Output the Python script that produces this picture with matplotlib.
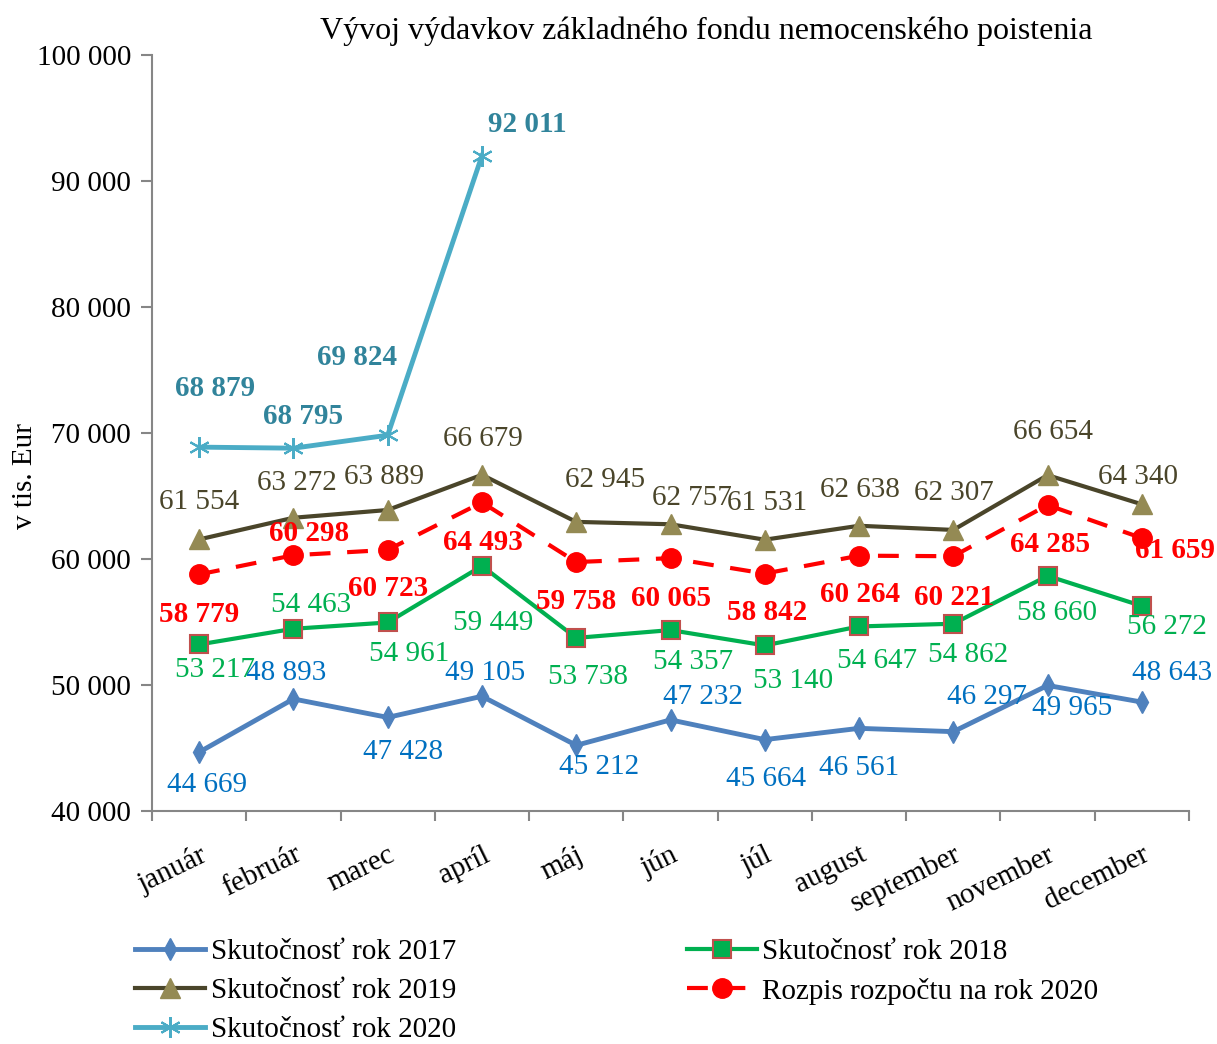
import matplotlib
matplotlib.use('Agg')
import matplotlib.pyplot as plt
from matplotlib.ticker import FuncFormatter, FixedLocator

plt.rcParams['font.family'] = ['Liberation Serif', 'DejaVu Serif']

months = ['január', 'február', 'marec', 'apríl', 'máj', 'jún', 'júl',
          'august', 'september', 'november', 'december']

rok2017 = [44669, 48893, 47428, 49105, 45212, 47232, 45664, 46561, 46297, 49965, 48643]
rok2018 = [53217, 54463, 54961, 59449, 53738, 54357, 53140, 54647, 54862, 58660, 56272]
rok2019 = [61554, 63272, 63889, 66679, 62945, 62757, 61531, 62638, 62307, 66654, 64340]
rozpis2020 = [58779, 60298, 60723, 64493, 59758, 60065, 58842, 60264, 60221, 64285, 61659]
rok2020 = [68879, 68795, 69824, 92011]

# posun popiskov v pixeloch (dx, dy) od bodu
off2017 = [(8, -33), (-7, 26), (15, -35), (3, 23), (23, -22), (32, 23), (1, -39),
           (0, -40), (34, 35), (25, -23), (30, 29)]
off2018 = [(16, -26), (18, 24), (21, -32), (11, -57), (12, -39), (23, -32), (28, -36),
           (18, -35), (15, -31), (9, -37), (25, -21)]
off2019 = [(0, 37), (3, 35), (-4, 33), (1, 36), (29, 42), (21, 26), (2, 37),
           (1, 36), (1, 37), (5, 43), (-4, 27)]
offroz = [(0, -40), (16, 22), (0, -39), (1, -40), (0, -39), (1, -40), (2, -39),
          (1, -39), (1, -41), (2, -39), (33, -12)]
off2020 = [(16, 59), (10, 32), (-31, 78), (45, 31)]

fig = plt.figure(figsize=(12.17, 10.44), dpi=100)
ax = fig.add_axes([152/1217, 1-811/1044, 1037/1217, 756/1044])

x = list(range(len(months)))
fs = 21

l17, = ax.plot(x, rok2017, color='#4F81BD', lw=3.5, marker='d', ms=11,
               mfc='#4F81BD', mec='#4F81BD', label='Skutočnosť rok 2017')
l18, = ax.plot(x, rok2018, color='#00B050', lw=3, marker='s', ms=13,
               mfc='#00B050', mec='#C0504D', mew=1.5, label='Skutočnosť rok 2018')
l19, = ax.plot(x, rok2019, color='#4A452A', lw=3, marker='^', ms=15,
               mfc='#948A54', mec='#948A54', label='Skutočnosť rok 2019')
lroz, = ax.plot(x, rozpis2020, color='#FF0000', lw=3, ls=(0, (5, 4)), marker='o', ms=14,
                mfc='#FF0000', mec='#FF0000', label='Rozpis rozpočtu na rok 2020')
l20, = ax.plot(x[:len(rok2020)], rok2020, color='#4BACC6', lw=3.5, marker=(6, 2, 0), ms=15,
               mec='#4BACC6', mew=1.5, label='Skutočnosť rok 2020')


def fmt(v):
    return f'{v:,}'.replace(',', ' ')


def labels(vals, offs, color, weight='normal'):
    for i, (v, (dx, dy)) in enumerate(zip(vals, offs)):
        ax.annotate(fmt(v), (i, v), xytext=(dx, dy), textcoords='offset pixels',
                    ha='center', va='center', fontsize=fs, color=color,
                    fontweight=weight, zorder=5)


labels(rok2017, off2017, '#0070C0')
labels(rok2018, off2018, '#00B050')
labels(rok2019, off2019, '#4A452A')
labels(rozpis2020, offroz, '#FF0000', 'bold')
labels(rok2020, off2020, '#31849B', 'bold')

ax.set_xlim(-0.5, len(months) - 0.5)
ax.set_ylim(40000, 100000)
ax.set_yticks(range(40000, 100001, 10000))
ax.yaxis.set_major_formatter(FuncFormatter(lambda v, p: fmt(int(v))))

ax.set_xticks(x)
ax.set_xticklabels(months, rotation=26, ha='right', rotation_mode='anchor')
ax.xaxis.set_minor_locator(FixedLocator([i - 0.5 for i in range(len(months) + 1)]))
ax.tick_params(axis='x', which='major', length=0, pad=22, labelsize=fs)
ax.tick_params(axis='x', which='minor', length=7, width=1.5, color='#868686', direction='out')
ax.tick_params(axis='y', length=8, width=1.5, color='#868686', pad=7, labelsize=fs)

for s in ['top', 'right']:
    ax.spines[s].set_visible(False)
for s in ['left', 'bottom']:
    ax.spines[s].set_color('#868686')
    ax.spines[s].set_linewidth(1.5)

fig.text(25/1217, 1-476/1044, 'v tis. Eur', rotation=90, ha='center', va='center', fontsize=fs)

fig.text(706/1217, 1-31/1044, 'Vývoj výdavkov základného fondu nemocenského poistenia',
         ha='center', va='center', fontsize=23)

order = [l17, l19, l20, l18, lroz]
fig.legend(order, [h.get_label() for h in order],
           ncol=2, loc='upper left', bbox_to_anchor=(135/1217, 1-939/1044),
           frameon=False, fontsize=fs, handlelength=2.4, handletextpad=0.2,
           columnspacing=7.9, labelspacing=0.42, borderaxespad=0, borderpad=0)

fig.savefig('out.png', dpi=100)
